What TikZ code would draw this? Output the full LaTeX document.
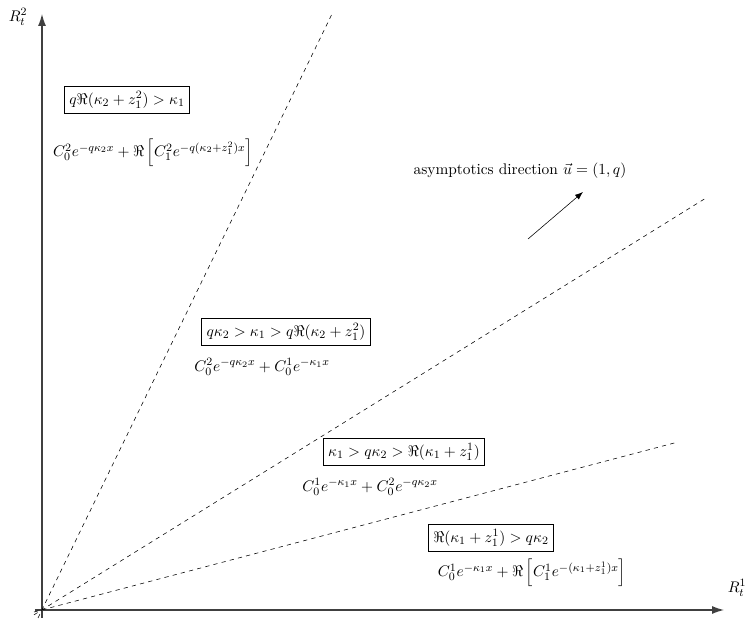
\documentclass[tikz,border=0pt,11pt]{standalone}
\usepackage{amsmath}
\usepackage{amssymb}
\usepackage{xcolor}
\usepackage{tikz}
\usetikzlibrary{arrows.meta, positioning, calc}

\begin{document}
\begin{tikzpicture}[
    axis/.style={-{Latex[length=3mm, width=2mm]}, thick, black!75},
    border/.style={dashed, thin},
    cond/.style={draw, thin, inner sep=3.5pt},
    expr/.style={inner sep=1pt},
    dir/.style={-{Latex[length=2mm]}, thin}]
  \useasboundingbox (-1.05,-0.25) rectangle (17.625,15.25);
  % axes
  \coordinate (O) at (0,0);
  \coordinate (xs) at (-0.18,0);
  \coordinate (xe) at (17.05,0);
  \coordinate (ys) at (0,-0.2);
  \coordinate (ye) at (0,14.9);
  \draw[axis] (xs) -- (xe);
  \draw[axis] (ys) -- (ye);
  \node (r1) at (17.375,0.55) {$R_t^1$};
  \node (r2) at (-0.6,14.825) {$R_t^2$};
  % region borders
  \coordinate (a0) at (-0.1,-0.2);
  \coordinate (a1) at (7.25,14.9);
  \coordinate (b0) at (-0.2,-0.12);
  \coordinate (b1) at (16.6,10.3);
  \coordinate (c0) at (-0.2,-0.05);
  \coordinate (c1) at (15.9,4.2);
  \draw[border] (a0) -- (a1);
  \draw[border] (b0) -- (b1);
  \draw[border] (c0) -- (c1);
  % regions
  \node[cond] (k1) at (2.125,12.75) {$q\Re(\kappa_2+z_1^2)>\kappa_1$};
  \node[expr] (e1) at (2.775,11.425) {$C_0^2e^{-q\kappa_2x}+\Re\left[C_1^2e^{-q(\kappa_2+z_1^2)x}\right]$};
  \node[cond] (k2) at (6.1,6.95) {$q\kappa_2>\kappa_1>q\Re(\kappa_2+z_1^2)$};
  \node[expr] (e2) at (5.5,6.075) {$C_0^2e^{-q\kappa_2x}+C_0^1e^{-\kappa_1x}$};
  \node[cond] (k3) at (9.05,3.95) {$\kappa_1>q\kappa_2>\Re(\kappa_1+z_1^1)$};
  \node[expr] (e3) at (8.2,3.075) {$C_0^1e^{-\kappa_1x}+C_0^2e^{-q\kappa_2x}$};
  \node[cond] (k4) at (11.225,1.8) {$\Re(\kappa_1+z_1^1)>q\kappa_2$};
  \node[expr] (e4) at (12.25,0.925) {$C_0^1e^{-\kappa_1x}+\Re\left[C_1^1e^{-(\kappa_1+z_1^1)x}\right]$};
  % direction
  \node (lbl) at (11.95,10.975) {asymptotics direction $\vec{u}=(1,q)$};
  \coordinate (u0) at (12.15,9.275);
  \coordinate (u1) at (13.525,10.45);
  \draw[dir] (u0) -- (u1);
\end{tikzpicture}
\end{document}
